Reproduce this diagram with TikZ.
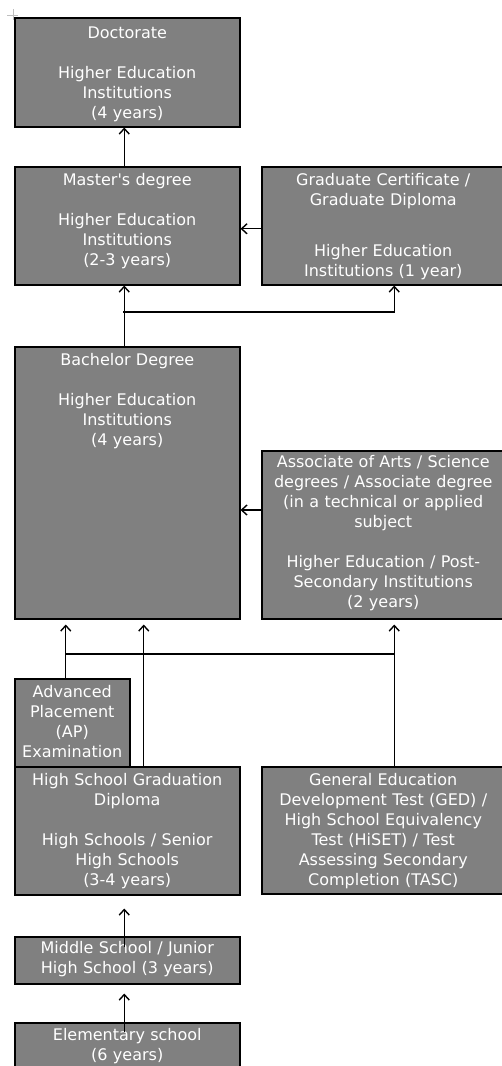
\documentclass[tikz,border=0pt]{standalone}
\usepackage{fontspec}
\usepackage{xcolor}
\usepackage{tikz}
\usetikzlibrary{arrows.meta}
\newfontfamily\tierfont{DejaVu Sans}
\definecolor{tiergray}{RGB}{128,128,128}

\begin{document}
\begin{tikzpicture}[x=1pt, y=-1pt,
    >={Straight Barb[length=5.5pt,width=10pt,line width=1.4pt]},
    tier/.style={draw=black, line width=1.5pt, fill=tiergray, text=white,
        anchor=north west, align=center, inner xsep=2pt, inner ysep=6pt,
        text height=13pt, font=\tierfont\fontsize{16}{20}\selectfont},
    link/.style={line width=1.3pt, black}]
    % Frame of the picture
    \useasboundingbox (0,0) rectangle (502,1066);
    \clip (0,0) rectangle (502,1066);
    % Small mark in the corner
    \draw [gray!50, line width=1pt] (7,15) -- (18,15) (13,9) -- (13,20);
    % Draw the boxes, top to bottom
    \node [tier, text width=221pt, text height=15pt, text depth=82pt] (doc) at (14,17)
        {Doctorate\\[20pt]Higher Education\\Institutions\\(4 years)};
    \node [tier, text width=221pt, text depth=93pt] (mast) at (14,166)
        {Master's degree\\[20pt]Higher Education\\Institutions\\(2-3 years)};
    \node [tier, text width=239pt, text depth=93pt] (grad) at (261,166)
        {Graduate Certificate /\\Graduate Diploma\\[31pt]Higher Education\\Institutions (1 year)};
    \node [tier, text width=221pt, text depth=247pt] (bach) at (14,346)
        {Bachelor Degree\\[20pt]Higher Education\\Institutions\\(4 years)};
    \node [tier, text width=239pt, text height=11pt, text depth=145pt] (assoc) at (261,450)
        {Associate of Arts / Science\\degrees / Associate degree\\(in a technical or applied\\subject\\[20pt]Higher Education / Post-\\Secondary Institutions\\(2 years)};
    \node [tier, text width=111pt, text depth=63pt] (ap) at (14,678)
        {Advanced\\Placement\\(AP)\\Examination};
    \node [tier, text width=221pt, text depth=103pt] (hs) at (14,766)
        {High School Graduation\\Diploma\\[20pt]High Schools / Senior\\High Schools\\(3-4 years)};
    \node [tier, text width=239pt, text depth=102pt] (ged) at (261,766)
        {General Education\\Development Test (GED) /\\High School Equivalency\\Test (HiSET) / Test\\Assessing Secondary\\Completion (TASC)};
    \node [tier, text width=221pt, text height=11pt, text depth=24pt] (mid) at (14,936)
        {Middle School / Junior\\High School (3 years)};
    \node [tier, text width=221pt, text height=12pt, text depth=26pt] (elem) at (14,1022)
        {Elementary school\\(6 years)};
    % Graduate level
    \draw [link, ->] ([xshift=-3pt]mast.north) -- ([xshift=-3pt]doc.south);
    \draw [link, ->] ([yshift=-3pt]grad.west) -- ([yshift=-3pt]mast.east);
    \draw [link, ->] ([xshift=-3pt]bach.north) -- ([xshift=-3pt]mast.south);
    \coordinate (upfork) at (123,312);
    \draw [link, ->] (upfork) -| ([xshift=11pt]grad.south);
    % Undergraduate level
    \draw [link, ->] (assoc.west |- 0,510) -- (bach.east |- 0,510);
    \draw [link, ->, shorten >=5pt] ([xshift=-6.5pt]ap.north)
        -- ([xshift=-6.5pt]ap.north |- bach.south);
    \draw [link, ->, shorten >=5pt] ([xshift=16.5pt]hs.north)
        -- ([xshift=16.5pt]hs.north |- bach.south);
    \draw [link, ->, shorten >=5pt] ([xshift=11pt]ged.north)
        -- ([xshift=11pt]assoc.south);
    \coordinate (apfork) at (65,654);
    \coordinate (gedfork) at (393.5,654);
    \draw [link] (apfork) -- (gedfork);
    % School level
    \draw [link, ->, shorten <=-11pt, shorten >=13pt] ([xshift=-3pt]mid.north)
        -- ([xshift=-3pt]hs.south);
    \draw [link, ->, shorten <=-10pt, shorten >=9pt] ([xshift=-3pt]elem.north)
        -- ([xshift=-3pt]mid.south);
\end{tikzpicture}
\end{document}
